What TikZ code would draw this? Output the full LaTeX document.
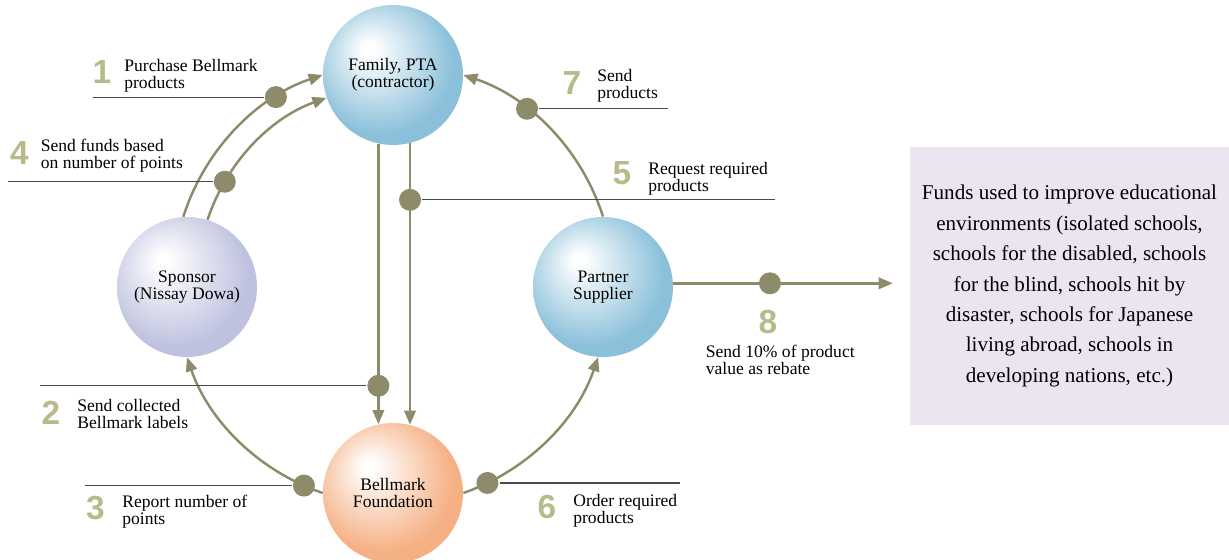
\documentclass[tikz,border=0pt]{standalone}
\usepackage{fontspec}
\setmainfont{Liberation Serif}
\newfontfamily\numfont{Liberation Sans}
\usetikzlibrary{arrows.meta}
\definecolor{famblue}{RGB}{139,192,218}
\definecolor{sponlav}{RGB}{191,194,223}
\definecolor{bellorange}{RGB}{245,176,132}
\definecolor{flowcol}{RGB}{141,139,106}
\definecolor{numcol}{RGB}{185,186,138}
\definecolor{boxfill}{RGB}{235,228,241}
\pgfdeclareradialshading{famshade}{\pgfqpoint{-9bp}{10bp}}{color(0bp)=(white);color(2bp)=(white);color(26bp)=(famblue);color(50bp)=(famblue)}
\pgfdeclareradialshading{sponshade}{\pgfqpoint{-9bp}{10bp}}{color(0bp)=(white);color(2bp)=(white);color(26bp)=(sponlav);color(50bp)=(sponlav)}
\pgfdeclareradialshading{bellshade}{\pgfqpoint{-9bp}{10bp}}{color(0bp)=(white);color(2bp)=(white);color(26bp)=(bellorange);color(50bp)=(bellorange)}
\begin{document}
\begin{tikzpicture}[x=0.02cm,y=0.02cm,>={Triangle[length=8pt,width=6.5pt]},font=\rmfamily\fontsize{10}{9.7}\selectfont,
	orb/.style={circle,minimum size=2.8cm,inner sep=0pt,align=center,shade},
	flow/.style={->,line width=1.4pt,draw=flowcol,looseness=0.9},
	bead/.style={circle,fill=flowcol,minimum size=0.44cm,inner sep=0pt},
	lead/.style={line width=0.7pt,black!70},
	num/.style={numcol,font=\numfont\bfseries\fontsize{19}{19}\selectfont,anchor=base},
	lbl/.style={anchor=base west,align=left,inner sep=0pt}]
	\useasboundingbox (0,0) rectangle (1229,560);
	% parties
	\node[orb,shading=famshade] (fam) at (393,485) {Family, PTA\\(contractor)};
	\node[orb,shading=sponshade] (spon) at (187,273) {Sponsor\\(Nissay Dowa)};
	\node[orb,shading=famshade] (part) at (603,273) {Partner\\Supplier};
	\node[orb,shading=bellshade] (bell) at (393,67) {Bellmark\\Foundation};
	\node[fill=boxfill,minimum width=6.38cm,minimum height=5.56cm,align=center,font=\rmfamily\fontsize{12}{17.3}\selectfont] (box) at (1069.5,274)
		{Funds used to improve educational\\environments (isolated schools,\\schools for the disabled, schools\\for the blind, schools hit by\\disaster, schools for Japanese\\living abroad, schools in\\developing nations, etc.)};
	% flows
	\draw[flow] (spon.93) to[bend left=27] node[bead,pos=0.75] (d1) {} (fam.180);
	\draw[flow] (spon.73) to[bend left=26] node[bead,pos=0.235] (d4) {} (fam.199);
	\draw[flow] (part.90) to[bend right=27] node[bead,pos=0.65] (d7) {} (fam.0);
	\draw[flow] (fam.258) -- node[bead,pos=0.863] (d2) {} (bell.102);
	\draw[flow] (fam.284) -- node[bead,pos=0.201] (d5) {} (bell.76);
	\draw[flow] (bell.180) to[bend left=26] node[bead,pos=0.1] (d3) {} (spon.270);
	\draw[flow] (bell.0) to[bend right=26] node[bead,pos=0.13] (d6) {} (part.266);
	\draw[flow,shorten >=0.34cm] (part.3) -- node[bead,pos=0.409] (d8) {} (part.3 -| box.west);
	% leaders
	\coordinate (e1) at (93,461);
	\coordinate (e4) at (8,380);
	\coordinate (e7) at (668,453);
	\coordinate (e5) at (775,360);
	\coordinate (e2) at (40,173);
	\coordinate (e3) at (85,77);
	\coordinate (e6) at (680,77);
	\foreach \k in {1,...,7}\draw[lead] (d\k) -- (d\k -| e\k);
	% step numbers and texts
	\foreach \n/\x/\y in {1/102/476,2/51/135,3/95.5/40,4/19.5/395,5/622/375,6/547/41,7/572/465,8/768/226}
		\node[num] (n\n) at (\x,\y) {\n};
	\node[lbl] (t1) at (124,471) {Purchase Bellmark\\products};
	\node[lbl] (t2) at (77,131) {Send collected\\Bellmark labels};
	\node[lbl] (t3) at (122,35) {Report number of\\points};
	\node[lbl] (t4) at (40.5,391) {Send funds based\\on number of points};
	\node[lbl] (t5) at (648,368) {Request required\\products};
	\node[lbl] (t6) at (573,36) {Order required\\products};
	\node[lbl] (t7) at (597,461) {Send\\products};
	\node[lbl] (t8) at (705.5,185) {Send 10\% of product\\value as rebate};
\end{tikzpicture}
\end{document}
